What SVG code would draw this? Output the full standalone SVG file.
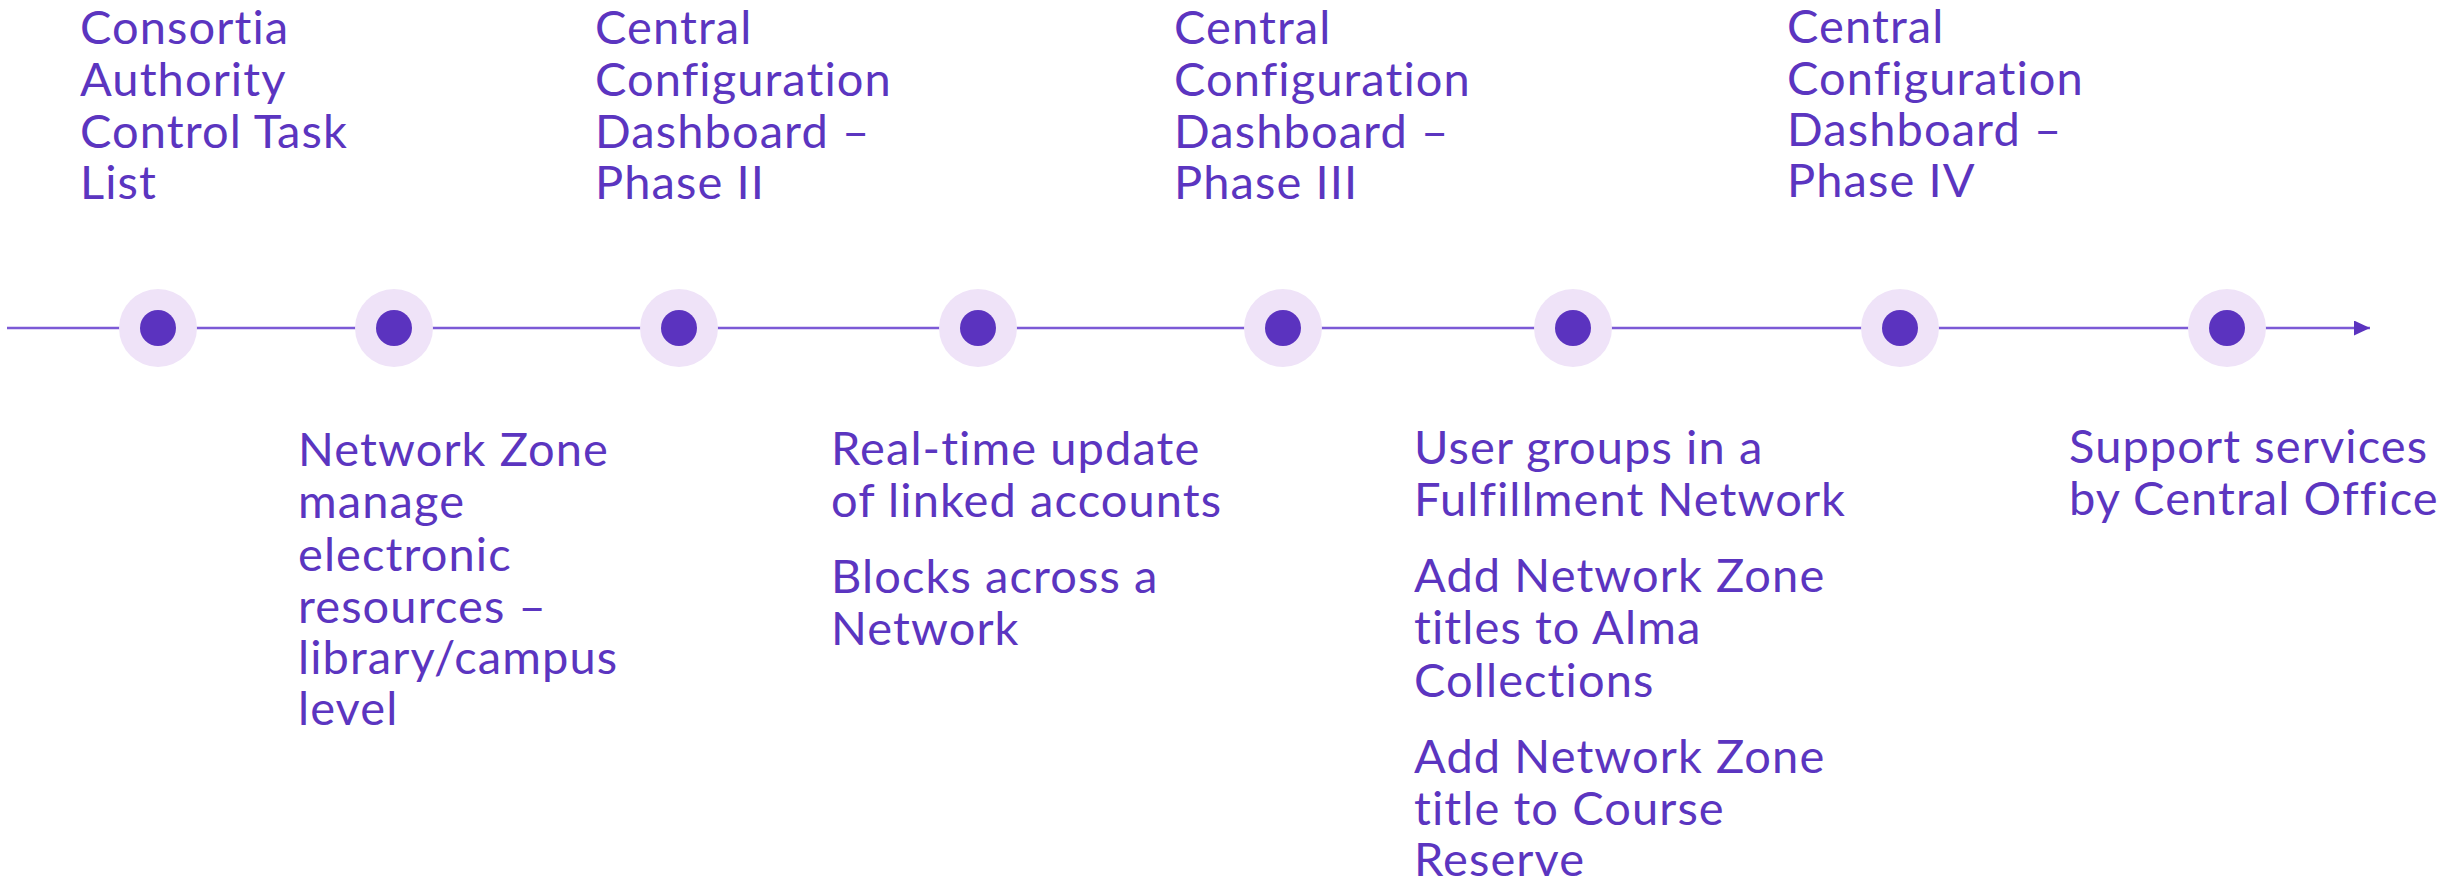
<svg xmlns="http://www.w3.org/2000/svg" width="2463" height="879" viewBox="0 0 2463 879">
<style>
.t{font-family:Lato,"Noto Sans",sans-serif;font-size:47px;letter-spacing:1.1px;fill:#5b35c0}
.halo{fill:#efe3f8}
.dot{fill:#5b33bf}
.ln{stroke:#7c5ad6;stroke-width:2.5;fill:none}
</style>
<defs>
<marker id="ah" markerWidth="16" markerHeight="15" refX="16" refY="7.5" orient="auto" markerUnits="userSpaceOnUse">
<path d="M0,0 L16,7.5 L0,15 Z" fill="#5b33bf"/>
</marker>
</defs>
<rect width="2463" height="879" fill="#ffffff"/>
<g id="connectors">
<line class="ln" x1="7" y1="328" x2="2370" y2="328" marker-end="url(#ah)"/>
</g>
<g id="n1"><circle class="halo" cx="158" cy="328" r="39"/><circle class="dot" cx="158" cy="328" r="18"/></g>
<g id="n2"><circle class="halo" cx="394" cy="328" r="39"/><circle class="dot" cx="394" cy="328" r="18"/></g>
<g id="n3"><circle class="halo" cx="679" cy="328" r="39"/><circle class="dot" cx="679" cy="328" r="18"/></g>
<g id="n4"><circle class="halo" cx="978" cy="328" r="39"/><circle class="dot" cx="978" cy="328" r="18"/></g>
<g id="n5"><circle class="halo" cx="1283" cy="328" r="39"/><circle class="dot" cx="1283" cy="328" r="18"/></g>
<g id="n6"><circle class="halo" cx="1573" cy="328" r="39"/><circle class="dot" cx="1573" cy="328" r="18"/></g>
<g id="n7"><circle class="halo" cx="1900" cy="328" r="39"/><circle class="dot" cx="1900" cy="328" r="18"/></g>
<g id="n8"><circle class="halo" cx="2227" cy="328" r="39"/><circle class="dot" cx="2227" cy="328" r="18"/></g>
<g id="label1">
<text class="t" x="80" y="44">Consortia</text>
<text class="t" x="80" y="96">Authority</text>
<text class="t" x="80" y="148">Control Task</text>
<text class="t" x="80" y="199">List</text>
</g>
<g id="label2">
<text class="t" x="298" y="466">Network Zone</text>
<text class="t" x="298" y="518">manage</text>
<text class="t" x="298" y="571">electronic</text>
<text class="t" x="298" y="623">resources –</text>
<text class="t" x="298" y="674">library/campus</text>
<text class="t" x="298" y="725">level</text>
</g>
<g id="label3">
<text class="t" x="595" y="44">Central</text>
<text class="t" x="595" y="96">Configuration</text>
<text class="t" x="595" y="148">Dashboard –</text>
<text class="t" x="595" y="199">Phase II</text>
</g>
<g id="label4">
<text class="t" x="831" y="465">Real-time update</text>
<text class="t" x="831" y="517">of linked accounts</text>
<text class="t" x="831" y="593">Blocks across a</text>
<text class="t" x="831" y="645">Network</text>
</g>
<g id="label5">
<text class="t" x="1174" y="44">Central</text>
<text class="t" x="1174" y="96">Configuration</text>
<text class="t" x="1174" y="148">Dashboard –</text>
<text class="t" x="1174" y="199">Phase III</text>
</g>
<g id="label6">
<text class="t" x="1414" y="464">User groups in a</text>
<text class="t" x="1414" y="516">Fulfillment Network</text>
<text class="t" x="1414" y="592">Add Network Zone</text>
<text class="t" x="1414" y="644">titles to Alma</text>
<text class="t" x="1414" y="697">Collections</text>
<text class="t" x="1414" y="773">Add Network Zone</text>
<text class="t" x="1414" y="825">title to Course</text>
<text class="t" x="1414" y="876">Reserve</text>
</g>
<g id="label7">
<text class="t" x="1787" y="43">Central</text>
<text class="t" x="1787" y="95">Configuration</text>
<text class="t" x="1787" y="146">Dashboard –</text>
<text class="t" x="1787" y="197">Phase IV</text>
</g>
<g id="label8">
<text class="t" x="2069" y="463">Support services</text>
<text class="t" x="2069" y="515">by Central Office</text>
</g>
</svg>
